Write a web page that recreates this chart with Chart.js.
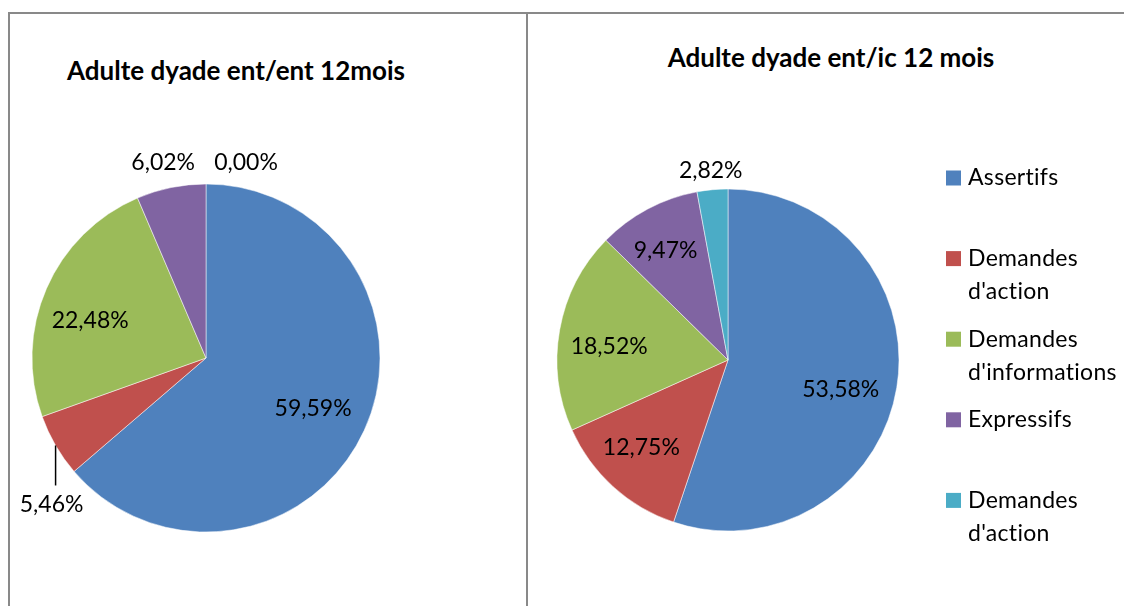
<!DOCTYPE html>
<html lang="fr">
<head>
<meta charset="utf-8">
<title>Adulte dyade 12 mois</title>
<script src="https://cdn.jsdelivr.net/npm/chart.js@4.4.1/dist/chart.umd.min.js"></script>
<style>
  html, body { margin: 0; padding: 0; background: #fff; }
  body { position: relative; width: 1124px; height: 606px; overflow: hidden; font-family: Lato, "Open Sans", sans-serif; }
  .cadre { position: absolute; border-top: 2px solid #898989; }
  #cadreGauche { left: 8px; top: 12px; width: 516px; height: 600px; border-left: 2px solid #898989; border-right: 2px solid #898989; }
  #cadreDroit { left: 528px; top: 12px; width: 600px; height: 600px; }
  .titre { position: absolute; font-weight: bold; font-size: 26px; line-height: 26px; color: #000; white-space: nowrap; transform: translateX(-50%); font-variant-ligatures: none; }
  #titreGauche { left: 236px; top: 57px; }
  #titreDroit { left: 831px; top: 44px; }
  canvas { position: absolute; top: 14px; }
  #camembertGauche { left: 10px; }
  #camembertDroit { left: 528px; }
</style>
</head>
<body>
<div class="cadre" id="cadreGauche"></div>
<div class="cadre" id="cadreDroit"></div>
<div class="titre" id="titreGauche">Adulte dyade ent/ent 12mois</div>
<div class="titre" id="titreDroit">Adulte dyade ent/ic 12 mois</div>
<canvas id="camembertGauche" width="516" height="592"></canvas>
<canvas id="camembertDroit" width="596" height="592"></canvas>

<script>
// --- données ---
const categories = ['Assertifs', "Demandes d'action", "Demandes d'informations", 'Expressifs', "Demandes d'action"];
const valeursEntEnt = [59.59, 5.46, 22.48, 6.02, 0.00];   // dyade ent/ent, en %
const valeursEntIc = [53.58, 12.75, 18.52, 9.47, 2.82];   // dyade ent/ic, en %
const couleurs = ['#4F81BD', '#C0504D', '#9BBB59', '#8064A2', '#4BACC6'];

const POLICE = 'Lato, "Open Sans", sans-serif';

function formatPct(v) {
    return v.toFixed(2).replace('.', ',') + '%';
}

// pas de ligatures (ti, fi...) dans le texte du canvas
function sansLigatures(ctx) {
    if ('textRendering' in ctx) ctx.textRendering = 'optimizeSpeed';
    if ('letterSpacing' in ctx) ctx.letterSpacing = '0.3px';
}

// étiquettes de valeur : placées sur l'angle médian de chaque part
const etiquettesPlugin = {
    id: 'etiquettes',
    afterDatasetsDraw(chart, args, opts) {
        const ctx = chart.ctx;
        const meta = chart.getDatasetMeta(0);
        const valeurs = chart.data.datasets[0].data;
        ctx.save();
        ctx.font = opts.taille + 'px ' + POLICE;
        ctx.fillStyle = '#000';
        ctx.textAlign = 'center';
        ctx.textBaseline = 'middle';
        meta.data.forEach((arc, i) => {
            const p = arc.getProps(['x', 'y', 'startAngle', 'endAngle', 'outerRadius'], true);
            const milieu = (p.startAngle + p.endAngle) / 2;
            const ax = p.x + Math.cos(milieu) * p.outerRadius * opts.rayons[i];
            const ay = p.y + Math.sin(milieu) * p.outerRadius * opts.rayons[i];
            const tx = ax + opts.decalages[i][0];
            const ty = ay + opts.decalages[i][1];
            ctx.fillText(formatPct(valeurs[i]), tx, ty);
            if (opts.traits && opts.traits[i]) {
                // trait de rappel vertical entre la part et son étiquette
                ctx.beginPath();
                ctx.strokeStyle = '#000';
                ctx.lineWidth = 1.5;
                ctx.moveTo(ax, ay);
                ctx.lineTo(ax, ty - 19);
                ctx.stroke();
            }
        });
        ctx.restore();
    }
};

// légende dessinée à la main : pas fixe et retour à la ligne des libellés longs
const legendePlugin = {
    id: 'legendeFixe',
    afterDraw(chart, args, opts) {
        if (!opts.afficher) return;
        const ctx = chart.ctx;
        ctx.save();
        ctx.font = opts.taille + 'px ' + POLICE;
        sansLigatures(ctx);
        ctx.textBaseline = 'middle';
        ctx.textAlign = 'left';
        chart.data.labels.forEach((libelle, i) => {
            const y = opts.y + i * opts.pas;
            ctx.fillStyle = chart.data.datasets[0].backgroundColor[i];
            ctx.fillRect(opts.x, y - 7.5, 15, 15);
            // découpage en lignes
            const mots = libelle.split(' ');
            const lignes = [];
            let courante = '';
            mots.forEach(m => {
                const essai = courante ? courante + ' ' + m : m;
                if (courante && ctx.measureText(essai).width > opts.largeurMax) {
                    lignes.push(courante);
                    courante = m;
                } else {
                    courante = essai;
                }
            });
            lignes.push(courante);
            ctx.fillStyle = '#000';
            lignes.forEach((l, k) => ctx.fillText(l, opts.x + 22, y + k * opts.interligne));
        });
        ctx.restore();
    }
};

function creerCamembert(id, valeurs, rayon, padding, etiquettes, legende) {
    return new Chart(document.getElementById(id), {
        type: 'pie',
        data: {
            labels: categories,
            datasets: [{
                data: valeurs,
                backgroundColor: couleurs,
                borderColor: '#ffffff',
                borderWidth: 0.5,
                radius: rayon
            }]
        },
        options: {
            responsive: false,
            animation: false,
            events: [],
            layout: { padding: padding },
            plugins: {
                legend: { display: false },
                tooltip: { enabled: false },
                title: { display: false },
                etiquettes: etiquettes,
                legendeFixe: legende
            }
        },
        plugins: [etiquettesPlugin, legendePlugin]
    });
}

creerCamembert('camembertGauche', valeursEntEnt, 174,
    { left: 22, right: 146, top: 170, bottom: 74 },
    {
        taille: 23,
        rayons: [0.69, 1.0, 0.72, 1.14, 1.14],
        decalages: [[-2, 0], [-4, 59], [-1, 13], [-3, -1], [40, 3]],
        traits: [false, true, false, false, false]
    },
    { afficher: false });

creerCamembert('camembertDroit', valeursEntIc, 171,
    { left: 29, right: 225, top: 175, bottom: 75 },
    {
        taille: 23,
        rayons: [0.68, 0.72, 0.7, 0.74, 1.11],
        decalages: [[-2, 11], [-4, -4], [-1, 8], [-3, 2], [0, 0]],
        traits: []
    },
    { afficher: true, x: 418, y: 164, pas: 80.6, interligne: 33, largeurMax: 130, taille: 23 });
</script>
</body>
</html>
